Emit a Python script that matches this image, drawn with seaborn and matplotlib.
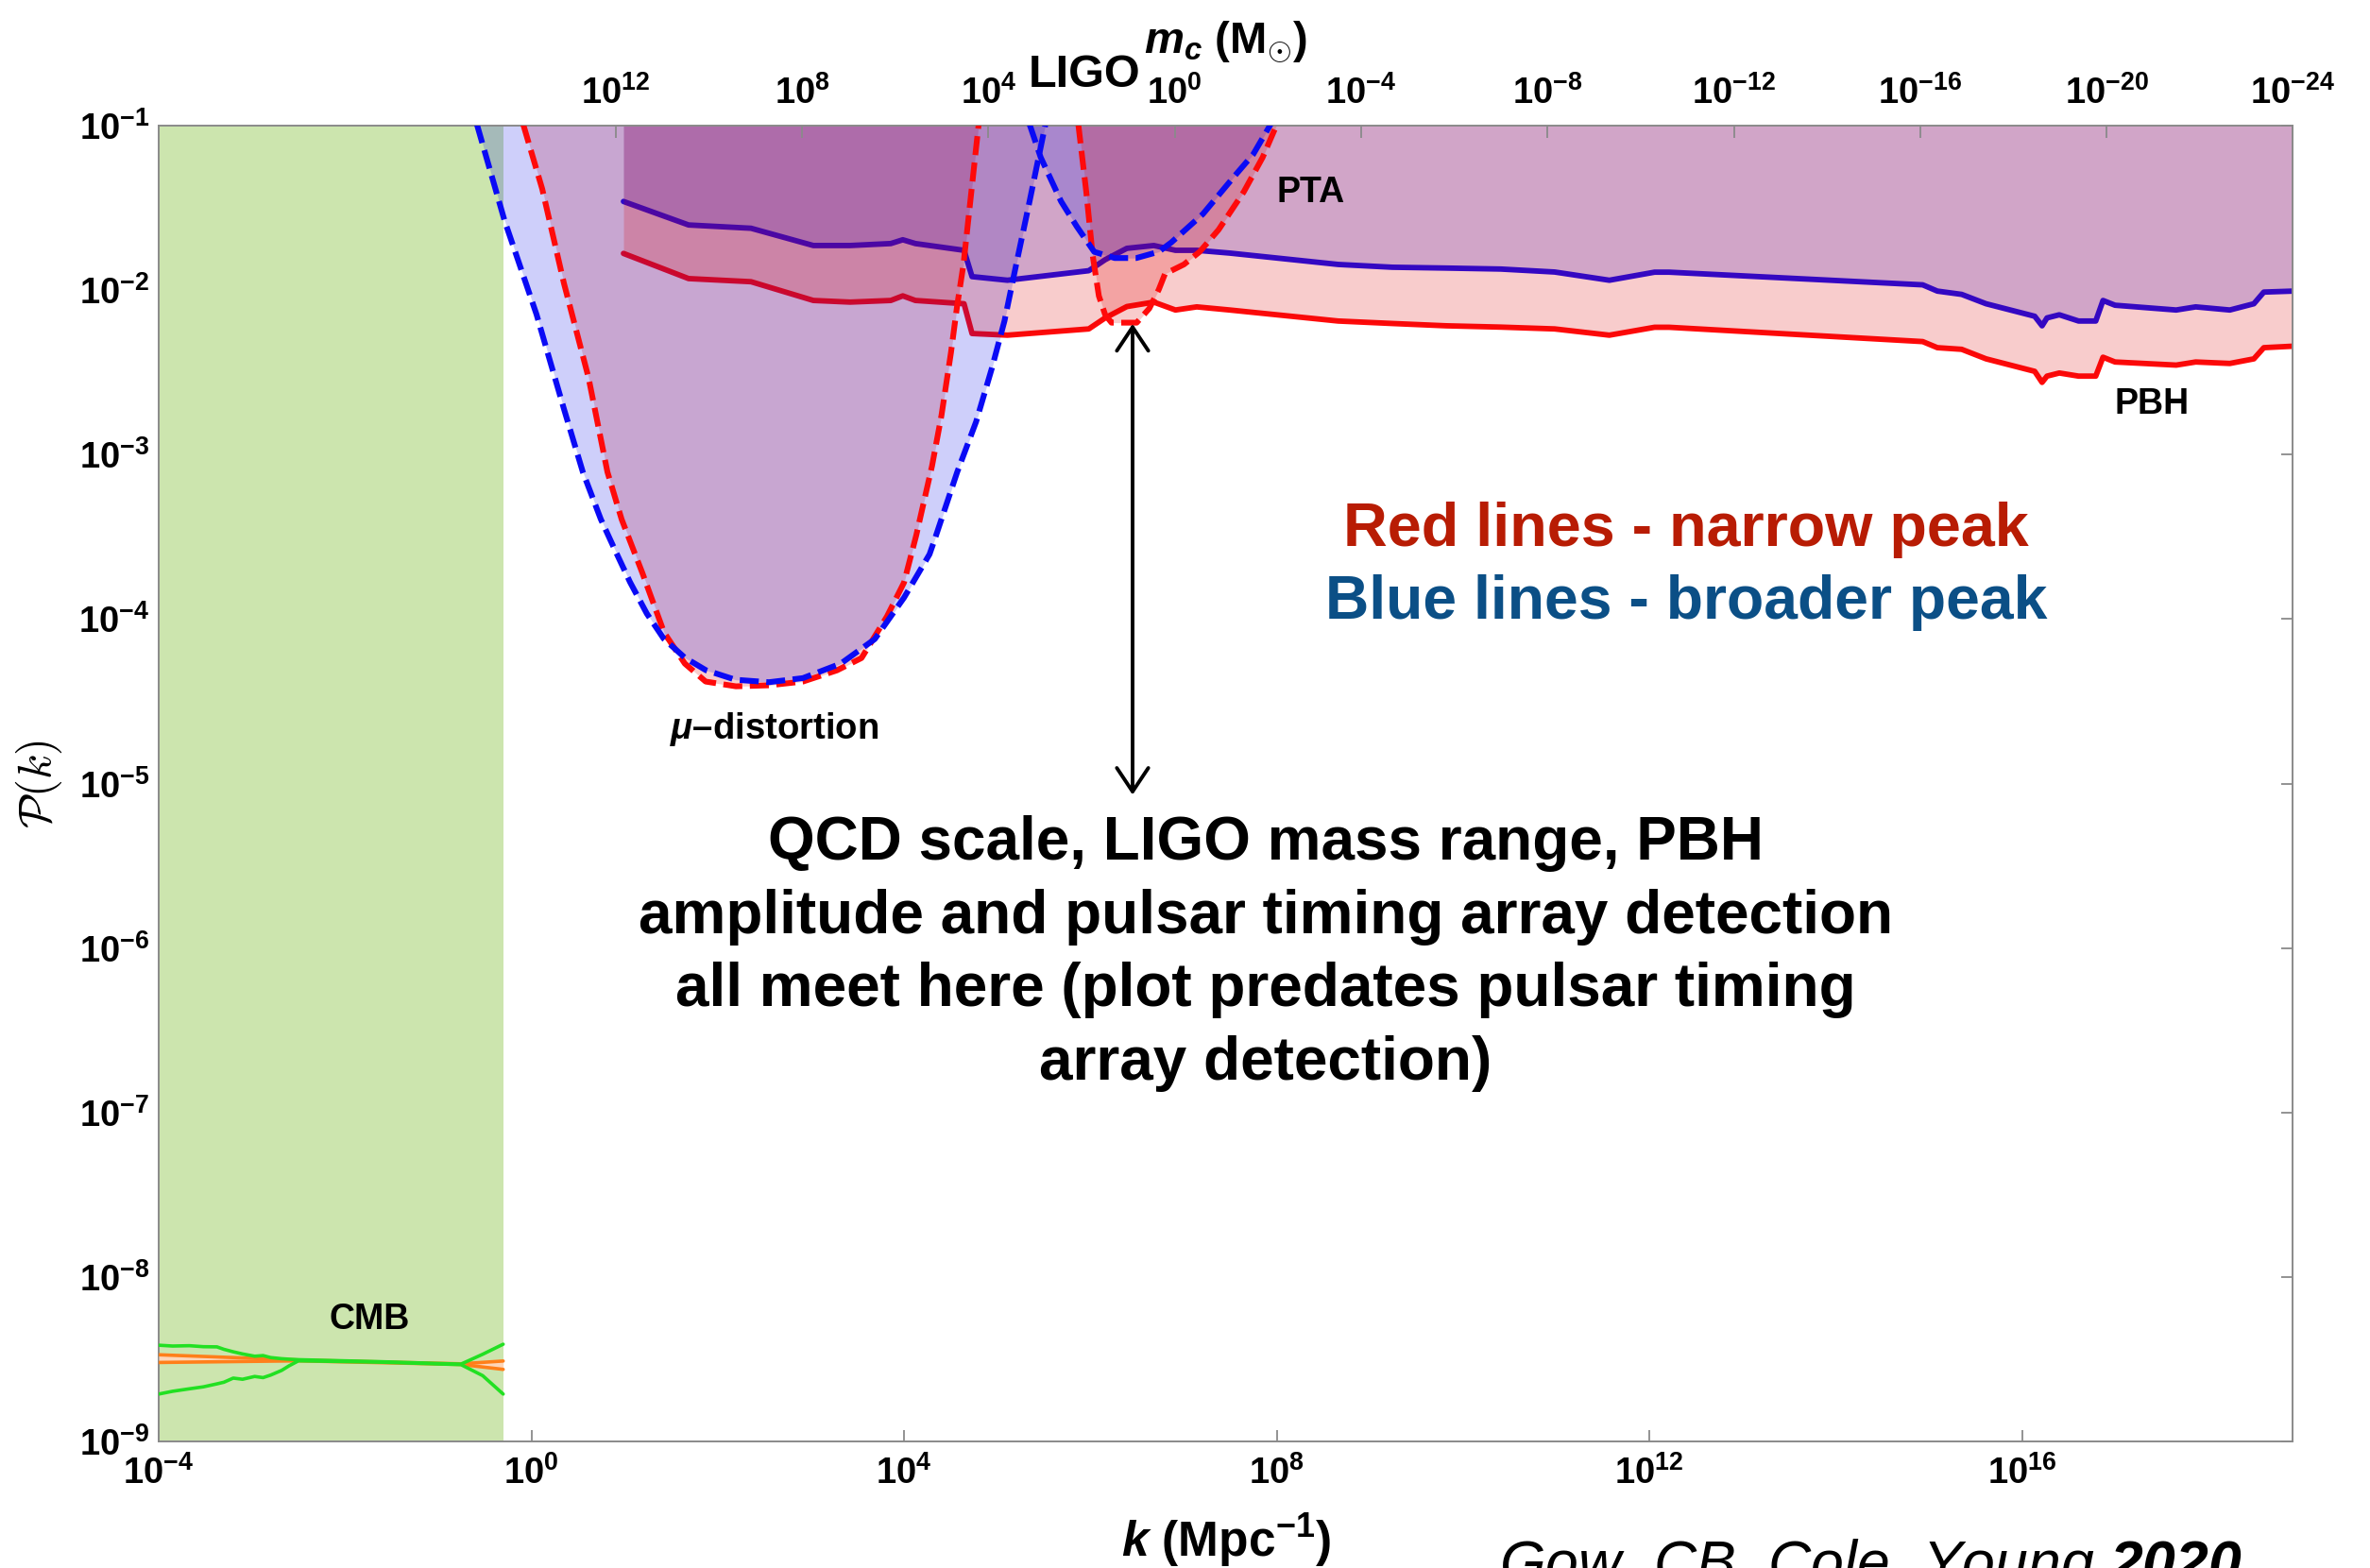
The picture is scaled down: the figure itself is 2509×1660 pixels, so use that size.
import numpy as np
import matplotlib
matplotlib.use("Agg")
import matplotlib.pyplot as plt
from matplotlib.ticker import FixedLocator, FuncFormatter, NullLocator
import seaborn as sns

# ---------------- data (log10 values) ----------------
# PBH constraint lines (solid)
pbh_logk = [0.988, 1.687, 2.357, 3.026, 3.421, 3.857, 3.986, 4.121, 4.643, 4.729,
            5.109, 5.982, 6.158, 6.391, 6.680, 6.912, 7.141, 7.496, 8.658, 9.240,
            9.817, 10.404, 10.982, 11.569, 12.054, 12.211, 14.932, 15.089, 15.350, 15.612,
            16.134, 16.213, 16.266, 16.398, 16.605, 16.789, 16.867, 16.996, 17.652, 17.862,
            18.228, 18.486, 18.593, 18.906]
pbh_blue_logP = [-1.461, -1.604, -1.624, -1.729, -1.729, -1.717, -1.694, -1.717, -1.758, -1.918,
                 -1.940, -1.882, -1.815, -1.746, -1.729, -1.758, -1.758, -1.775, -1.844, -1.861,
                 -1.866, -1.872, -1.890, -1.940, -1.891, -1.891, -1.968, -2.006, -2.026, -2.083,
                 -2.159, -2.217, -2.169, -2.150, -2.188, -2.188, -2.063, -2.092, -2.121, -2.102,
                 -2.121, -2.083, -2.012, -2.006]
pbh_red_logP = [-1.777, -1.930, -1.949, -2.063, -2.073, -2.063, -2.035, -2.063, -2.083, -2.264,
                -2.274, -2.236, -2.169, -2.100, -2.073, -2.121, -2.102, -2.121, -2.188, -2.203,
                -2.217, -2.225, -2.236, -2.274, -2.226, -2.226, -2.313, -2.350, -2.360, -2.418,
                -2.494, -2.561, -2.523, -2.504, -2.523, -2.523, -2.408, -2.437, -2.456, -2.437,
                -2.446, -2.418, -2.350, -2.341]

# mu-distortion constraints (dashed U curves)
mu_blue_logk = [-0.584, -0.290, 0.055, 0.349, 0.552, 0.745, 0.900, 1.059, 1.239, 1.421,
                1.647, 1.873, 2.190, 2.549, 2.914, 3.320, 3.685, 3.999, 4.273, 4.333,
                4.570, 4.773, 4.942, 5.077, 5.196, 5.347, 5.516]
mu_blue_logP = [-0.994, -1.574, -2.148, -2.722, -3.106, -3.393, -3.584, -3.776, -3.967, -4.120,
                -4.235, -4.311, -4.369, -4.384, -4.359, -4.271, -4.122, -3.870, -3.606, -3.508,
                -3.106, -2.800, -2.475, -2.188, -1.863, -1.459, -0.993]
mu_red_logk = [-0.087, 0.116, 0.349, 0.613, 0.816, 0.968, 1.191, 1.424, 1.647, 1.870,
               2.195, 2.549, 2.914, 3.279, 3.543, 3.816, 3.999, 4.131, 4.300, 4.401,
               4.503, 4.570, 4.637, 4.800]
mu_red_logP = [-0.994, -1.385, -1.958, -2.532, -3.106, -3.393, -3.720, -4.082, -4.271, -4.380,
               -4.409, -4.403, -4.380, -4.312, -4.237, -3.984, -3.778, -3.489, -3.068, -2.762,
               -2.379, -2.092, -1.844, -0.993]

# PTA constraints (dashed U curves)
pta_blue_logk = [5.347, 5.466, 5.685, 5.854, 6.040, 6.260, 6.493, 6.733, 6.868, 7.206,
                 7.544, 7.747, 7.933]
pta_blue_logP = [-0.993, -1.193, -1.461, -1.614, -1.767, -1.805, -1.805, -1.767, -1.710, -1.538,
                 -1.308, -1.174, -0.993]
pta_red_logk = [5.870, 5.955, 6.023, 6.090, 6.158, 6.226, 6.496, 6.631, 6.733, 6.800,
                7.003, 7.172, 7.375, 7.645, 7.848, 8.000]
pta_red_logP = [-0.993, -1.403, -1.786, -2.035, -2.150, -2.198, -2.198, -2.112, -1.997, -1.901,
                -1.844, -1.767, -1.633, -1.403, -1.193, -0.993]

# CMB measurements
cmb_edge_logk = -0.303
cmb_logk = [-4.0, -3.85, -3.67, -3.52, -3.375, -3.30, -3.2, -3.10, -2.97, -2.88, -2.8,
            -2.68, -2.6, -2.5, -1.63, -1.05, -0.756, -0.523, -0.303]
cmb_green_up = [-8.415, -8.420, -8.418, -8.424, -8.425, -8.440, -8.455, -8.468, -8.482, -8.478,
                -8.490, -8.497, -8.500, -8.503, -8.515, -8.525, -8.530, -8.470, -8.409]
cmb_green_lo = [-8.712, -8.695, -8.680, -8.668, -8.650, -8.640, -8.615, -8.622, -8.605, -8.612,
                -8.597, -8.568, -8.540, -8.510, -8.518, -8.528, -8.533, -8.600, -8.712]
cmb_orange_logk = [-4.0, -2.5, -0.756, -0.303]
cmb_orange_up = [-8.473, -8.505, -8.528, -8.511]
cmb_orange_lo = [-8.520, -8.510, -8.532, -8.562]

# axes
XMIN_LOG, XMAX_LOG = -4.0, 18.906
YMIN_LOG, YMAX_LOG = -9, -1
MASS_CONST = 13.81          # log10 m_c = MASS_CONST - 2 log10 k
k_ticks = [-4, 0, 4, 8, 12, 16]
P_ticks = [-1, -2, -3, -4, -5, -6, -7, -8, -9]
m_ticks = [12, 8, 4, 0, -4, -8, -12, -16, -20, -24]

# ---------------- style ----------------
sns.set_theme(style="white")
plt.rcParams["font.family"] = ["Liberation Sans", "DejaVu Sans"]
plt.rcParams["font.weight"] = "bold"
plt.rcParams["text.color"] = "black"
plt.rcParams["axes.labelcolor"] = "black"
plt.rcParams["mathtext.fontset"] = "custom"
plt.rcParams["mathtext.rm"] = "Liberation Sans:bold"
plt.rcParams["mathtext.bf"] = "Liberation Sans:bold"
plt.rcParams["mathtext.sf"] = "Liberation Sans:bold"
plt.rcParams["mathtext.it"] = "Liberation Sans:italic:bold"
plt.rcParams["mathtext.bfit"] = "Liberation Sans:italic:bold"
plt.rcParams["axes.unicode_minus"] = True

RED_FILL = (0.88, 0.0, 0.0)
BLUE_FILL = (0.04, 0.07, 0.90)
FILL_ALPHA = 0.2
RED_LINE = "#ff0a0a"
BLUE_LINE = "#0a0af5"
GREEN_BG = "#cce5ae"
SPINE = "#8a8a8a"

fig = plt.figure(figsize=(25.09, 16.60), dpi=100)
ax = fig.add_axes([0.06696, 0.08072, 0.90055, 0.83916])
ax.set_xscale("log")
ax.set_yscale("log")

def P(a):
    return 10.0 ** np.asarray(a, dtype=float)

# CMB band
ax.axvspan(P(XMIN_LOG), P(cmb_edge_logk), color=GREEN_BG, lw=0, zorder=0)

# PBH solid lines (beneath the translucent fills)
sns.lineplot(x=P(pbh_logk), y=P(pbh_red_logP), ax=ax, color=RED_LINE, lw=4.2,
             sort=False, estimator=None, zorder=1)
sns.lineplot(x=P(pbh_logk), y=P(pbh_blue_logP), ax=ax, color=BLUE_LINE, lw=4.2,
             sort=False, estimator=None, zorder=1)

# translucent constraint regions (excluded region above each curve)
for lk, lp, col in [(mu_red_logk, mu_red_logP, RED_FILL),
                    (mu_blue_logk, mu_blue_logP, BLUE_FILL),
                    (pbh_logk, pbh_blue_logP, BLUE_FILL),
                    (pbh_logk, pbh_red_logP, RED_FILL),
                    (pta_blue_logk, pta_blue_logP, BLUE_FILL),
                    (pta_red_logk, pta_red_logP, RED_FILL)]:
    ax.fill_between(P(lk), P(lp), 1.0, color=col, alpha=FILL_ALPHA, lw=0, zorder=2)

# dashed boundaries
dash = (0, (3.3, 1.3))
for lk, lp, col in [(mu_red_logk, mu_red_logP, RED_LINE),
                    (pta_red_logk, pta_red_logP, RED_LINE),
                    (mu_blue_logk, mu_blue_logP, BLUE_LINE),
                    (pta_blue_logk, pta_blue_logP, BLUE_LINE)]:
    sns.lineplot(x=P(lk), y=P(lp), ax=ax, color=col, lw=4.4, linestyle=dash,
                 sort=False, estimator=None, zorder=3)

# CMB data
ax.fill_between(P(cmb_orange_logk), P(cmb_orange_lo), P(cmb_orange_up),
                color="#fdd5b8", lw=0, zorder=4)
for arr in (cmb_orange_up, cmb_orange_lo):
    sns.lineplot(x=P(cmb_orange_logk), y=P(arr), ax=ax, color="#ff7f1a", lw=2.6,
                 sort=False, estimator=None, zorder=5)
for arr in (cmb_green_up, cmb_green_lo):
    sns.lineplot(x=P(cmb_logk), y=P(arr), ax=ax, color="#22e022", lw=2.6,
                 sort=False, estimator=None, zorder=6)

ax.set_xlim(P(XMIN_LOG), P(XMAX_LOG))
ax.set_ylim(P(YMIN_LOG), P(YMAX_LOG))

# ---------------- ticks / axes ----------------
pow_fmt = FuncFormatter(lambda v, pos: r"$\mathrm{10^{%d}}$" % int(round(np.log10(v))))
ax.xaxis.set_major_locator(FixedLocator(P(k_ticks)))
ax.yaxis.set_major_locator(FixedLocator(P(P_ticks)))
ax.xaxis.set_minor_locator(NullLocator())
ax.yaxis.set_minor_locator(NullLocator())
ax.xaxis.set_major_formatter(pow_fmt)
ax.yaxis.set_major_formatter(pow_fmt)
ax.tick_params(axis="both", which="major", direction="in", length=9, width=1.3,
               color=SPINE, labelsize=27.5, labelcolor="black")
ax.tick_params(axis="x", pad=11)
ax.tick_params(axis="y", pad=7, right=True, labelright=False)
for s in ax.spines.values():
    s.set_color(SPINE)
    s.set_linewidth(1.4)
    s.set_visible(True)

ax2 = ax.twiny()
ax2.set_xscale("log")
ax2.set_xlim(P(MASS_CONST - 2 * XMIN_LOG), P(MASS_CONST - 2 * XMAX_LOG))
ax2.xaxis.set_major_locator(FixedLocator(P(m_ticks)))
ax2.xaxis.set_minor_locator(NullLocator())
ax2.xaxis.set_major_formatter(pow_fmt)
ax2.tick_params(axis="x", which="major", direction="in", length=9, width=1.3,
                color=SPINE, labelsize=27.5, labelcolor="black", pad=11)
for s in ax2.spines.values():
    s.set_visible(False)

# axis labels
ax.set_xlabel(r"$k$ (Mpc$^{-1}$)", fontsize=37, fontweight="bold")
ax.xaxis.set_label_coords(0.5, -0.0535)
ax2.set_xlabel(r"$m_c$ (M$_{\odot}$)", fontsize=34, fontweight="bold")
ax2.xaxis.set_label_coords(0.5, 1.0553)
ax.set_ylabel(r"$\mathcal{P}(k)$", fontsize=35, math_fontfamily="cm")
ax.yaxis.set_label_coords(-0.0443, 0.5)

# ---------------- annotations ----------------
ax.text(P(8.368), P(-1.407), "PTA", fontsize=27, fontweight="bold", ha="center", va="center", zorder=7)
ax.text(P(17.391), P(-2.693), "PBH", fontsize=27, fontweight="bold", ha="center", va="center", zorder=7)
ax.text(P(-1.739), P(-8.260), "CMB", fontsize=27, fontweight="bold", ha="center", va="center", zorder=7)
ax.text(P(2.610), P(-4.667), r"$\mu$–distortion", fontsize=27.5, fontweight="bold",
        ha="center", va="center", zorder=7)
ax.text(P(5.935), P(-0.765), "LIGO", fontsize=35, fontweight="bold", ha="center",
        va="baseline", clip_on=False, zorder=7)

ax.text(P(12.39), P(-3.554), "Red lines - narrow peak", fontsize=46.5, fontweight="bold",
        color="#b81c04", ha="center", va="baseline", zorder=7)
ax.text(P(12.39), P(-3.996), "Blue lines - broader peak", fontsize=46.3, fontweight="bold",
        color="#0b4f86", ha="center", va="baseline", zorder=7)

ax.text(P(7.881), P(-5.195),
        "QCD scale, LIGO mass range, PBH\namplitude and pulsar timing array detection\n"
        "all meet here (plot predates pulsar timing\narray detection)",
        fontsize=46, fontweight="bold", ha="center", va="top", multialignment="center",
        linespacing=1.37, color="black", zorder=7)

ax.annotate("", xy=(P(6.452), P(-2.205)), xytext=(P(6.452), P(-5.069)),
            arrowprops=dict(arrowstyle="<->,head_length=0.45,head_width=0.3", lw=2.8,
                            color="black", shrinkA=0, shrinkB=0, mutation_scale=40),
            zorder=7)

fig.text(0.6325, -0.009, r"Gow, CB, Cole, Young $\mathbfit{2020}$", fontsize=45,
         fontstyle="italic", fontweight="normal", ha="left", va="baseline", color="black")

fig.savefig("out.png", dpi=100)
